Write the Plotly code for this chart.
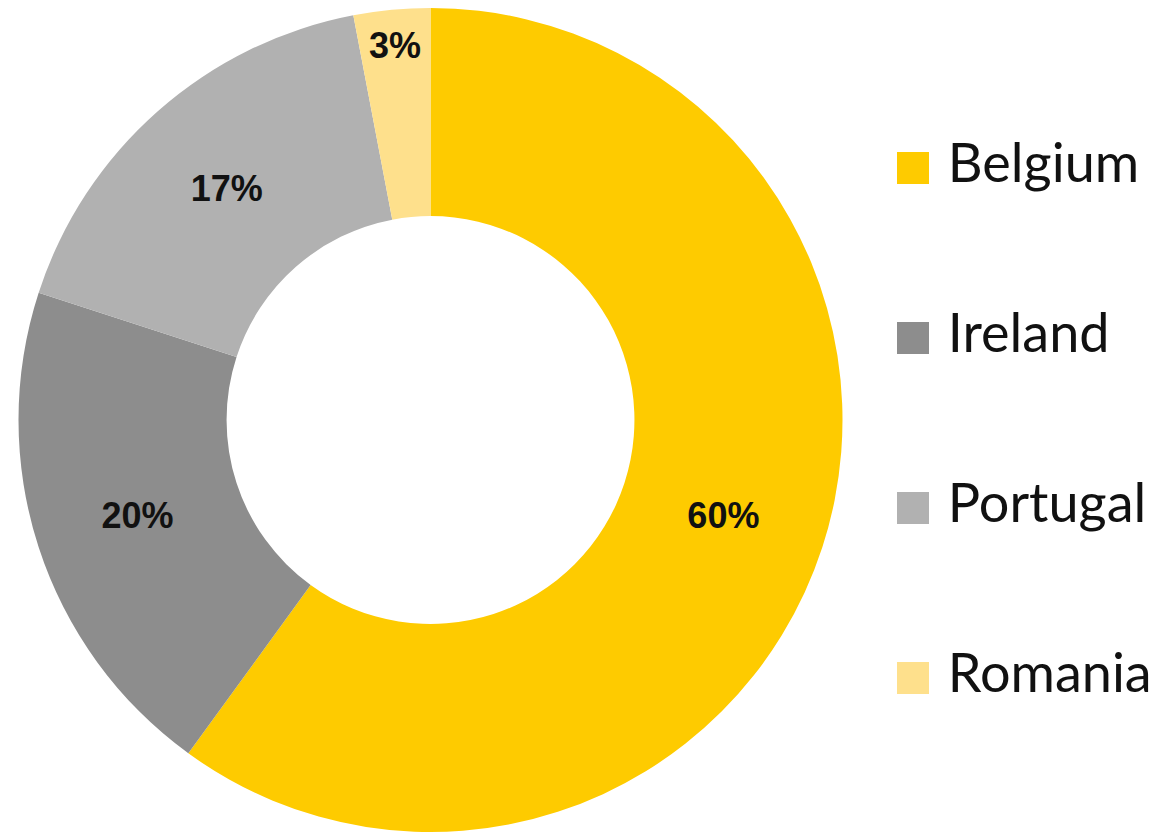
import plotly.graph_objects as go

countries = ["Belgium", "Ireland", "Portugal", "Romania"]
shares = [60, 20, 17, 3]
colors = ["#FECB00", "#8D8D8D", "#B1B1B1", "#FEE08C"]
legend_rows = list(range(len(countries)))

# page body has an 8px margin, so the figure is sized to fit the window
W, H = 1159, 828

fig = go.Figure()

fig.add_trace(go.Pie(
    labels=countries,
    values=shares,
    hole=0.495,
    sort=False,
    direction="clockwise",
    rotation=0,
    marker=dict(colors=colors, line=dict(width=0)),
    textinfo="percent",
    textposition="inside",
    insidetextorientation="horizontal",
    textfont=dict(family="Liberation Sans", size=36, color="#111111", weight="bold"),
    domain=dict(x=[10 / W, 835 / W], y=[4 / H, 1.0]),
    showlegend=False,
    hoverinfo="label+percent",
))

# Legend drawn as a scatter on hidden axes
fig.add_trace(go.Scatter(
    x=[0] * len(countries),
    y=legend_rows,
    mode="markers+text",
    marker=dict(symbol="square", size=32, color=colors, line=dict(width=0)),
    text=countries,
    texttemplate="\u00a0%{text}",
    textposition="middle right",
    textfont=dict(family="Lato", size=54, color="#111111"),
    showlegend=False,
    hoverinfo="skip",
    cliponaxis=False,
))

cx = 905 / W
step = 170
first = 160
fig.update_layout(
    width=W, height=H,
    margin=dict(l=0, r=0, t=0, b=0),
    paper_bgcolor="white",
    plot_bgcolor="rgba(0,0,0,0)",
    xaxis=dict(domain=[cx - 0.04, cx + 0.04], range=[-0.5, 0.5], visible=False, fixedrange=True),
    yaxis=dict(domain=[0, 1], range=[(H - first) / step, -first / step], visible=False, fixedrange=True),
)

fig.write_html("out.html")
